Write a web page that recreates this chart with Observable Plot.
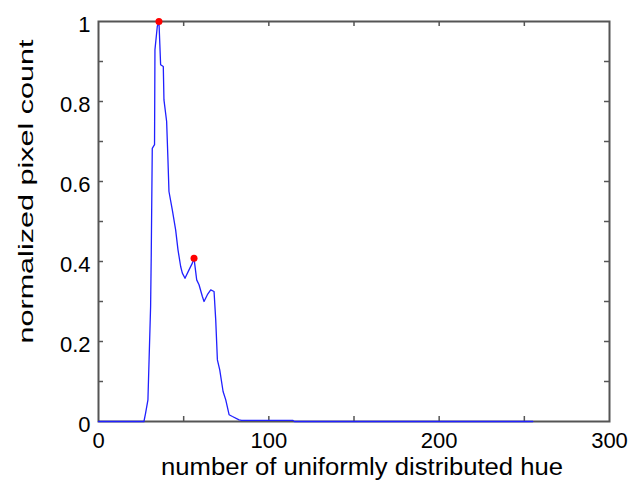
<!DOCTYPE html>
<html>
<head>
<meta charset="utf-8">
<script src="https://cdn.jsdelivr.net/npm/d3@7"></script>
<script src="https://cdn.jsdelivr.net/npm/@observablehq/plot@0.6"></script>
<style>
  html, body { margin: 0; padding: 0; background: #fff; }
  #chart { width: 630px; height: 486px; }
</style>
</head>
<body>
<div id="chart"></div>
<script>
// Histogram of hue (normalized pixel count)
const hue = [0, 26.67, 27.65, 29.02, 29.61, 30.59, 30.98, 31.57, 32.9, 33.14, 34.51, 35.49, 36.47, 38.04, 38.43, 40.0, 40.78, 41.37, 43.33, 45.29, 46.67, 48.24, 49.22, 50.78, 53.14, 55.1, 56.08, 57.65, 59.02, 60.98, 61.96, 63.92, 65.88, 67.84, 68.82, 69.8, 71.18, 73.14, 74.71, 76.67, 78.63, 82.55, 84, 114, 115, 255];
const count = [0, 0, 0.021, 0.054, 0.142, 0.2875, 0.421, 0.683, 0.692, 0.929, 0.9875, 1.0, 0.892, 0.8875, 0.804, 0.75, 0.654, 0.575, 0.529, 0.479, 0.429, 0.3875, 0.371, 0.358, 0.379, 0.396, 0.408, 0.354, 0.342, 0.3125, 0.3, 0.317, 0.329, 0.325, 0.254, 0.154, 0.129, 0.075, 0.054, 0.017, 0.0125, 0.004, 0.003, 0.003, 0, 0];

// Detected peaks (red dots)
const peakHue = [35.49, 56.08];
const peakCount = [1.0, 0.408];

// Axis ticks and labels
const xTickMarks = [50, 100, 150, 200, 250];
const yTickMarks = [0.1, 0.2, 0.3, 0.4, 0.5, 0.6, 0.7, 0.8, 0.9];
const xTickLabels = [0, 100, 200, 300];
const yTickLabels = [0, 0.2, 0.4, 0.6, 0.8, 1];
const xLabel = "number of uniformly distributed hue";
const yLabel = "normalized pixel count";

const series = hue.map((h, i) => ({hue: h, count: count[i]}));
const peaks = peakHue.map((h, i) => ({hue: h, count: peakCount[i]}));

const W = 630, H = 486, mL = 98, mR = 21, mT = 21, mB = 65;
const innerW = W - mL - mR, innerH = H - mT - mB;
const tickLen = 5;
const frameColor = "#555";

const chart = Plot.plot({
  width: W,
  height: H,
  marginLeft: mL,
  marginRight: mR,
  marginTop: mT,
  marginBottom: mB,
  style: {fontFamily: "Liberation Sans, Arial, sans-serif", background: "#fff", color: "#000"},
  x: {domain: [0, 300]},
  y: {domain: [0, 1]},
  marks: [
    Plot.frame({stroke: frameColor, strokeWidth: 2}),
    // inward ticks on all four sides
    Plot.tickX(xTickMarks, {x: d => d, insetTop: innerH - tickLen, stroke: frameColor, strokeWidth: 1.5}),
    Plot.tickX(xTickMarks, {x: d => d, insetBottom: innerH - tickLen, stroke: frameColor, strokeWidth: 1.5}),
    Plot.tickY(yTickMarks, {y: d => d, insetRight: innerW - tickLen, stroke: frameColor, strokeWidth: 1.5}),
    Plot.tickY(yTickMarks, {y: d => d, insetLeft: innerW - tickLen, stroke: frameColor, strokeWidth: 1.5}),
    Plot.axisX({ticks: xTickLabels, tickSize: 0, tickPadding: 11, fontSize: 22, label: null, tickFormat: d => String(d)}),
    Plot.axisY({ticks: yTickLabels, tickSize: 0, tickPadding: 8, fontSize: 22, label: null, tickFormat: d => String(d), dy: 3}),
    Plot.line(series, {x: "hue", y: "count", stroke: "#2020ff", strokeWidth: 1.3}),
    Plot.dot(peaks, {x: "hue", y: "count", r: 3.5, fill: "#ff0000", stroke: "none"}),
    Plot.text([xLabel], {text: d => d, frameAnchor: "bottom", dy: 46, dx: 8, lineAnchor: "middle", textAnchor: "middle", fontSize: 23, fill: "#000"}),
    Plot.text([yLabel], {text: d => d, frameAnchor: "left", dx: -72, dy: -30, rotate: -90, lineAnchor: "middle", textAnchor: "middle", fontSize: 21, fill: "#000"})
  ]
});

document.getElementById("chart").appendChild(chart);

// stretch the axis titles to the reference's wide rendering
d3.select(chart).selectAll("text").each(function() {
  const t = this.textContent;
  if (t === xLabel) { this.setAttribute("textLength", 402); this.setAttribute("lengthAdjust", "spacingAndGlyphs"); }
  if (t === yLabel) { this.setAttribute("textLength", 304); this.setAttribute("lengthAdjust", "spacingAndGlyphs"); }
});
</script>
</body>
</html>
